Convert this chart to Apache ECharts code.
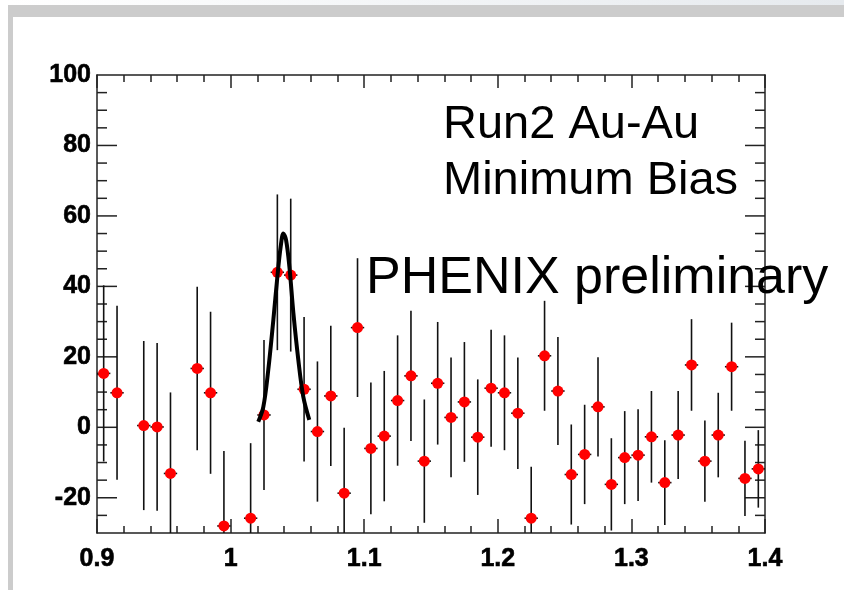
<!DOCTYPE html>
<html>
<head>
<meta charset="utf-8">
<script src="https://cdn.jsdelivr.net/npm/echarts@6/dist/echarts.min.js"></script>
<style>html,body{margin:0;padding:0;background:#fff;}#c{width:844px;height:590px;}</style>
</head>
<body>
<div id="c"></div>
<script>
// ---- data ----
const binCenters = [0.905,0.915,0.935,0.945,0.955,0.975,0.985,0.995,1.015,1.025,1.035,1.045,1.055,1.065,1.075,1.085,1.095,1.105,1.115,1.125,1.135,1.145,1.155,1.165,1.175,1.185,1.195,1.205,1.215,1.225,1.235,1.245,1.255,1.265,1.275,1.285,1.295,1.305,1.315,1.325,1.335,1.345,1.355,1.365,1.375,1.385,1.395];
const counts = [15.3,9.8,0.5,0.1,-13.1,16.7,9.8,-28.0,-25.8,3.5,44.0,43.2,10.8,-1.2,8.9,-18.7,28.3,-6.0,-2.5,7.6,14.6,-9.6,12.5,2.8,7.2,-2.8,11.1,9.8,4.0,-25.8,20.3,10.3,-13.4,-7.7,5.8,-16.2,-8.6,-7.9,-2.7,-15.7,-2.2,17.7,-9.6,-2.2,17.2,-14.5,-11.8];
const countErrors = [25.0,24.7,24.0,23.8,23.0,23.2,23.0,21.3,21.3,21.3,22.1,21.7,20.5,19.9,19.9,18.6,19.7,18.7,18.5,18.5,18.5,17.5,17.4,17.0,17.0,16.4,16.6,16.3,15.8,14.6,15.6,15.3,14.2,14.1,14.1,13.1,13.2,13.0,13.0,12.0,12.5,13.0,11.5,12.0,12.5,10.7,11.0];
const binHalfWidth = 0.005;

const fitX = [1.0207,1.0245,1.0282,1.032,1.035,1.0375,1.0395,1.0415,1.044,1.047,1.0507,1.0544,1.0589];
const fitY = [1.6,5.8,16.3,30.5,42.7,51.3,55.0,53.2,45.6,32.4,19.1,8.7,2.1];

const xMin = 0.9, xMax = 1.4, xStep = 0.1;
const yMin = -30, yMax = 100;
const yLabelValues = [-20,0,20,40,60,80,100];
const yTickValues = [-25,-20,-15,-10,-5,0,5,10,15,20,25,30,35,40,45,50,55,60,65,70,75,80,85,90,95];

const annotLines = ['Run2 Au-Au','Minimum Bias'];
const annotPrelim = 'PHENIX preliminary';
// --------------------------------------

const chart = echarts.init(document.getElementById('c'), null, {renderer:'canvas'});
const axisColor = '#222222';
const labelFont = {fontFamily:'Liberation Sans', fontWeight:'bold', fontSize:25, color:'#000', textBorderColor:'#000', textBorderWidth:0.6};

const errData = binCenters.map((x,i)=>[x, counts[i], countErrors[i]]);
const ptData = binCenters.map((x,i)=>[x, counts[i]]);
const fitData = fitX.map((x,i)=>[x, fitY[i]]);

const option = {
  animation:false,
  backgroundColor:'#ffffff',
  graphic:[
    {type:'rect', shape:{x:8,y:0,width:836,height:5}, style:{fill:new echarts.graphic.LinearGradient(0,0,1,0,[{offset:0,color:'#ffffff'},{offset:1,color:'#e6eaee'}])}, silent:true, z:-10},
    {type:'rect', shape:{x:8,y:5,width:836,height:12}, style:{fill:'#cccccc'}, silent:true, z:-10},
    {type:'rect', shape:{x:8,y:5,width:5,height:585}, style:{fill:'#cccccc'}, silent:true, z:-10},
    {type:'text', x:443, y:125, style:{text:annotLines[0], font:'47px "Liberation Sans"', fill:'#000', textAlign:'left', textVerticalAlign:'middle'}, z:10},
    {type:'text', x:443, y:181, style:{text:annotLines[1], font:'47px "Liberation Sans"', fill:'#000', textAlign:'left', textVerticalAlign:'middle'}, z:10},
    {type:'text', x:366, y:279, style:{text:annotPrelim, font:'52px "Liberation Sans"', fill:'#000', textAlign:'left', textVerticalAlign:'middle'}, z:10}
  ],
  grid:{left:97, right:79, top:75, bottom:57, containLabel:false},
  xAxis:[
    {type:'value', min:xMin, max:xMax, interval:xStep, position:'bottom',
     axisLine:{show:true, onZero:false, lineStyle:{color:axisColor, width:1.5}},
     axisTick:{show:true, inside:true, length:14, lineStyle:{color:axisColor, width:1.5}},
     minorTick:{show:true, splitNumber:5, length:7, lineStyle:{color:axisColor, width:1.5}},
     axisLabel:Object.assign({margin:14, formatter:v=>String(Math.round(v*10)/10)}, labelFont),
     splitLine:{show:false}, minorSplitLine:{show:false}},
    {type:'value', min:xMin, max:xMax, interval:xStep, position:'top',
     axisLine:{show:true, onZero:false, lineStyle:{color:axisColor, width:1.5}},
     axisTick:{show:true, inside:true, length:13, lineStyle:{color:axisColor, width:1.5}},
     minorTick:{show:true, splitNumber:5, length:7, lineStyle:{color:axisColor, width:1.5}},
     axisLabel:{show:false}, splitLine:{show:false}}
  ],
  yAxis:[
    {type:'value', min:yMin, max:yMax, interval:10, position:'left',
     axisLine:{show:true, onZero:false, lineStyle:{color:axisColor, width:1.5}},
     axisTick:{show:false},
     axisLabel:Object.assign({margin:6, formatter:v=> yLabelValues.indexOf(v)>=0 ? String(v) : ''}, labelFont),
     splitLine:{show:false}},
    {type:'value', min:yMin, max:yMax, interval:10, position:'right',
     axisLine:{show:true, onZero:false, lineStyle:{color:axisColor, width:1.5}},
     axisTick:{show:false}, axisLabel:{show:false}, splitLine:{show:false}}
  ],
  series:[
    {type:'custom', name:'yticks', xAxisIndex:0, yAxisIndex:0, z:3,
     data:yTickValues.map(v=>[xMin, v]),
     renderItem:function(params, api){
       const v = api.value(1);
       const major = v % 20 === 0;
       const len = major ? 20 : 10;
       const l = api.coord([xMin, v]);
       const r = api.coord([xMax, v]);
       return {type:'group', children:[
         {type:'line', shape:{x1:l[0], y1:l[1], x2:l[0]+len, y2:l[1]}, style:{stroke:axisColor, lineWidth:1.5}},
         {type:'line', shape:{x1:r[0], y1:r[1], x2:r[0]-len, y2:r[1]}, style:{stroke:axisColor, lineWidth:1.5}}
       ]};
     }},
    {type:'custom', name:'errors', xAxisIndex:0, yAxisIndex:0, z:4,
     data:errData,
     renderItem:function(params, api){
       const x = api.value(0), y = api.value(1), e = api.value(2);
       const lo = Math.max(y - e, yMin), hi = Math.min(y + e, yMax);
       const p1 = api.coord([x, lo]), p2 = api.coord([x, hi]);
       const h1 = api.coord([x - binHalfWidth, y]), h2 = api.coord([x + binHalfWidth, y]);
       return {type:'group', children:[
         {type:'line', shape:{x1:p1[0], y1:p1[1], x2:p2[0], y2:p2[1]}, style:{stroke:'#111111', lineWidth:1.6}},
         {type:'line', shape:{x1:h1[0], y1:h1[1], x2:h2[0], y2:h2[1]}, style:{stroke:'#111111', lineWidth:1.6}}
       ]};
     }},
    {type:'scatter', name:'data', xAxisIndex:0, yAxisIndex:0, z:5,
     data:ptData, symbol:'circle', symbolSize:11,
     itemStyle:{color:'#ff0000', opacity:1}},
    {type:'line', name:'fit', xAxisIndex:0, yAxisIndex:0, z:6,
     data:fitData, smooth:0.35, showSymbol:false, symbol:'none',
     lineStyle:{color:'#000', width:4}}
  ]
};
chart.setOption(option);
</script>
</body>
</html>
